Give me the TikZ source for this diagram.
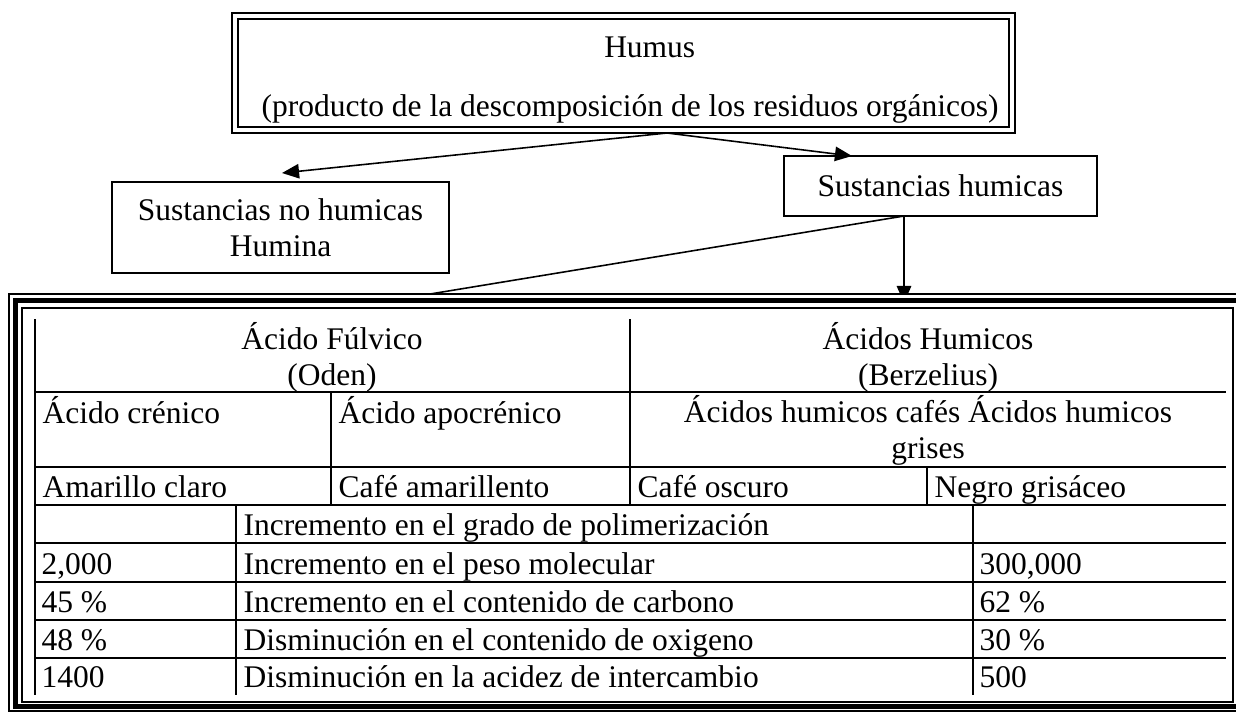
\documentclass[tikz,border=0pt]{standalone}
\usepackage{fontspec}
\setmainfont{Liberation Serif}
\usetikzlibrary{arrows.meta, positioning}
\tikzset{
    caja/.style={
        rectangle, draw=black, line width=0.75pt, align=center, inner sep=0pt
    },
    caja_doble/.style={
        caja, double, double distance=1.5pt
    },
    celda/.style={
        anchor=base west, inner sep=0pt
    },
    celda_centro/.style={
        align=center, inner sep=0pt
    },
    arrow/.style={
        line width=0.6pt, -{Triangle[length=6.5pt, width=5.5pt]}
    },
    linea/.style={
        line width=0.6pt
    },
    regla/.style={
        line width=0.75pt
    }
}

\begin{document}
\begin{tikzpicture}[x=0.381pt, y=-0.381pt, font=\fontsize{12pt}{13.8pt}\selectfont]
    \useasboundingbox (0,0) rectangle (1236,713);

    % Cuadros superiores
    \node[caja_doble, minimum width=777*0.381pt, minimum height=114*0.381pt] (humus) at (623.5,73) {\hspace*{20pt}\rule{0pt}{13.2pt}Humus\\[9pt]\hspace*{5pt}(producto de la descomposición de los residuos orgánicos)};
    \node[caja, minimum width=337*0.381pt, minimum height=91*0.381pt] (nohumicas) at (280.5,227.5) {Sustancias no humicas\\Humina};
    \node[caja, minimum width=313*0.381pt, minimum height=60*0.381pt] (humicas) at (940.5,186) {Sustancias humicas};

    % Puntos de conexion
    \coordinate (h_sal) at (667,133);
    \coordinate (n_ent) at (282,173);
    \coordinate (h_ent) at (852,156);
    \coordinate (s_sal) at (904,216);
    \coordinate (t_izq) at (430,294);
    \coordinate (t_ent) at (904,303);

    \draw[arrow] (h_sal) -- (n_ent);
    \draw[arrow] (h_sal) -- (h_ent);
    \draw[linea] (s_sal) -- (t_izq);
    \draw[arrow] (s_sal) -- (t_ent);

    % Marco de la tabla
    \draw[line width=0.55pt, fill=white] (9,294) rectangle (1252,711);
    \draw[line width=1.9pt] (15.5,300.5) rectangle (1244,706);
    \draw[line width=0.75pt] (22,307.5) rectangle (1233,702);

    % Reglas de la tabla
    \draw[regla] (35,319) -- (35,695);
    \draw[regla] (35,392) -- (1226,392);
    \draw[regla] (35,467) -- (1226,467);
    \draw[regla] (35,505) -- (1226,505);
    \draw[regla] (35,543) -- (1226,543);
    \draw[regla] (35,582) -- (1226,582);
    \draw[regla] (35,620) -- (1226,620);
    \draw[regla] (35,658) -- (1226,658);
    \draw[regla] (630,319) -- (630,505);
    \draw[regla] (331,392) -- (331,505);
    \draw[regla] (927,467) -- (927,505);
    \draw[regla] (236,505) -- (236,695);
    \draw[regla] (973,505) -- (973,695);

    % Encabezados
    \node[celda_centro] (fulvico) at (332,357) {Ácido Fúlvico\\(Oden)};
    \node[celda_centro] (humicos) at (928,357) {Ácidos Humicos\\(Berzelius)};
    \node[celda] (crenico) at (42,423) {Ácido crénico};
    \node[celda] (apocrenico) at (338,423) {Ácido apocrénico};
    \node[celda_centro] (cafes_grises) at (928,430) {Ácidos humicos cafés Ácidos humicos\\grises};

    % Colores
    \node[celda] (amarillo) at (42,497) {Amarillo claro};
    \node[celda] (cafe_am) at (338,497) {Café amarillento};
    \node[celda] (cafe_osc) at (637,497) {Café oscuro};
    \node[celda] (negro) at (934,497) {Negro grisáceo};

    % Propiedades
    \node[celda] (polim) at (243,535) {Incremento en el grado de polimerización};
    \node[celda] (peso_min) at (41,574) {2,000};
    \node[celda] (peso) at (243,574) {Incremento en el peso molecular};
    \node[celda] (peso_max) at (979,574) {300,000};
    \node[celda] (carb_min) at (41,612) {45 \%};
    \node[celda] (carb) at (243,612) {Incremento en el contenido de carbono};
    \node[celda] (carb_max) at (979,612) {62 \%};
    \node[celda] (oxi_min) at (41,650) {48 \%};
    \node[celda] (oxi) at (243,650) {Disminución en el contenido de oxigeno};
    \node[celda] (oxi_max) at (979,650) {30 \%};
    \node[celda] (acid_min) at (41,687) {1400};
    \node[celda] (acid) at (243,687) {Disminución en la acidez de intercambio};
    \node[celda] (acid_max) at (979,687) {500};
\end{tikzpicture}
\end{document}
